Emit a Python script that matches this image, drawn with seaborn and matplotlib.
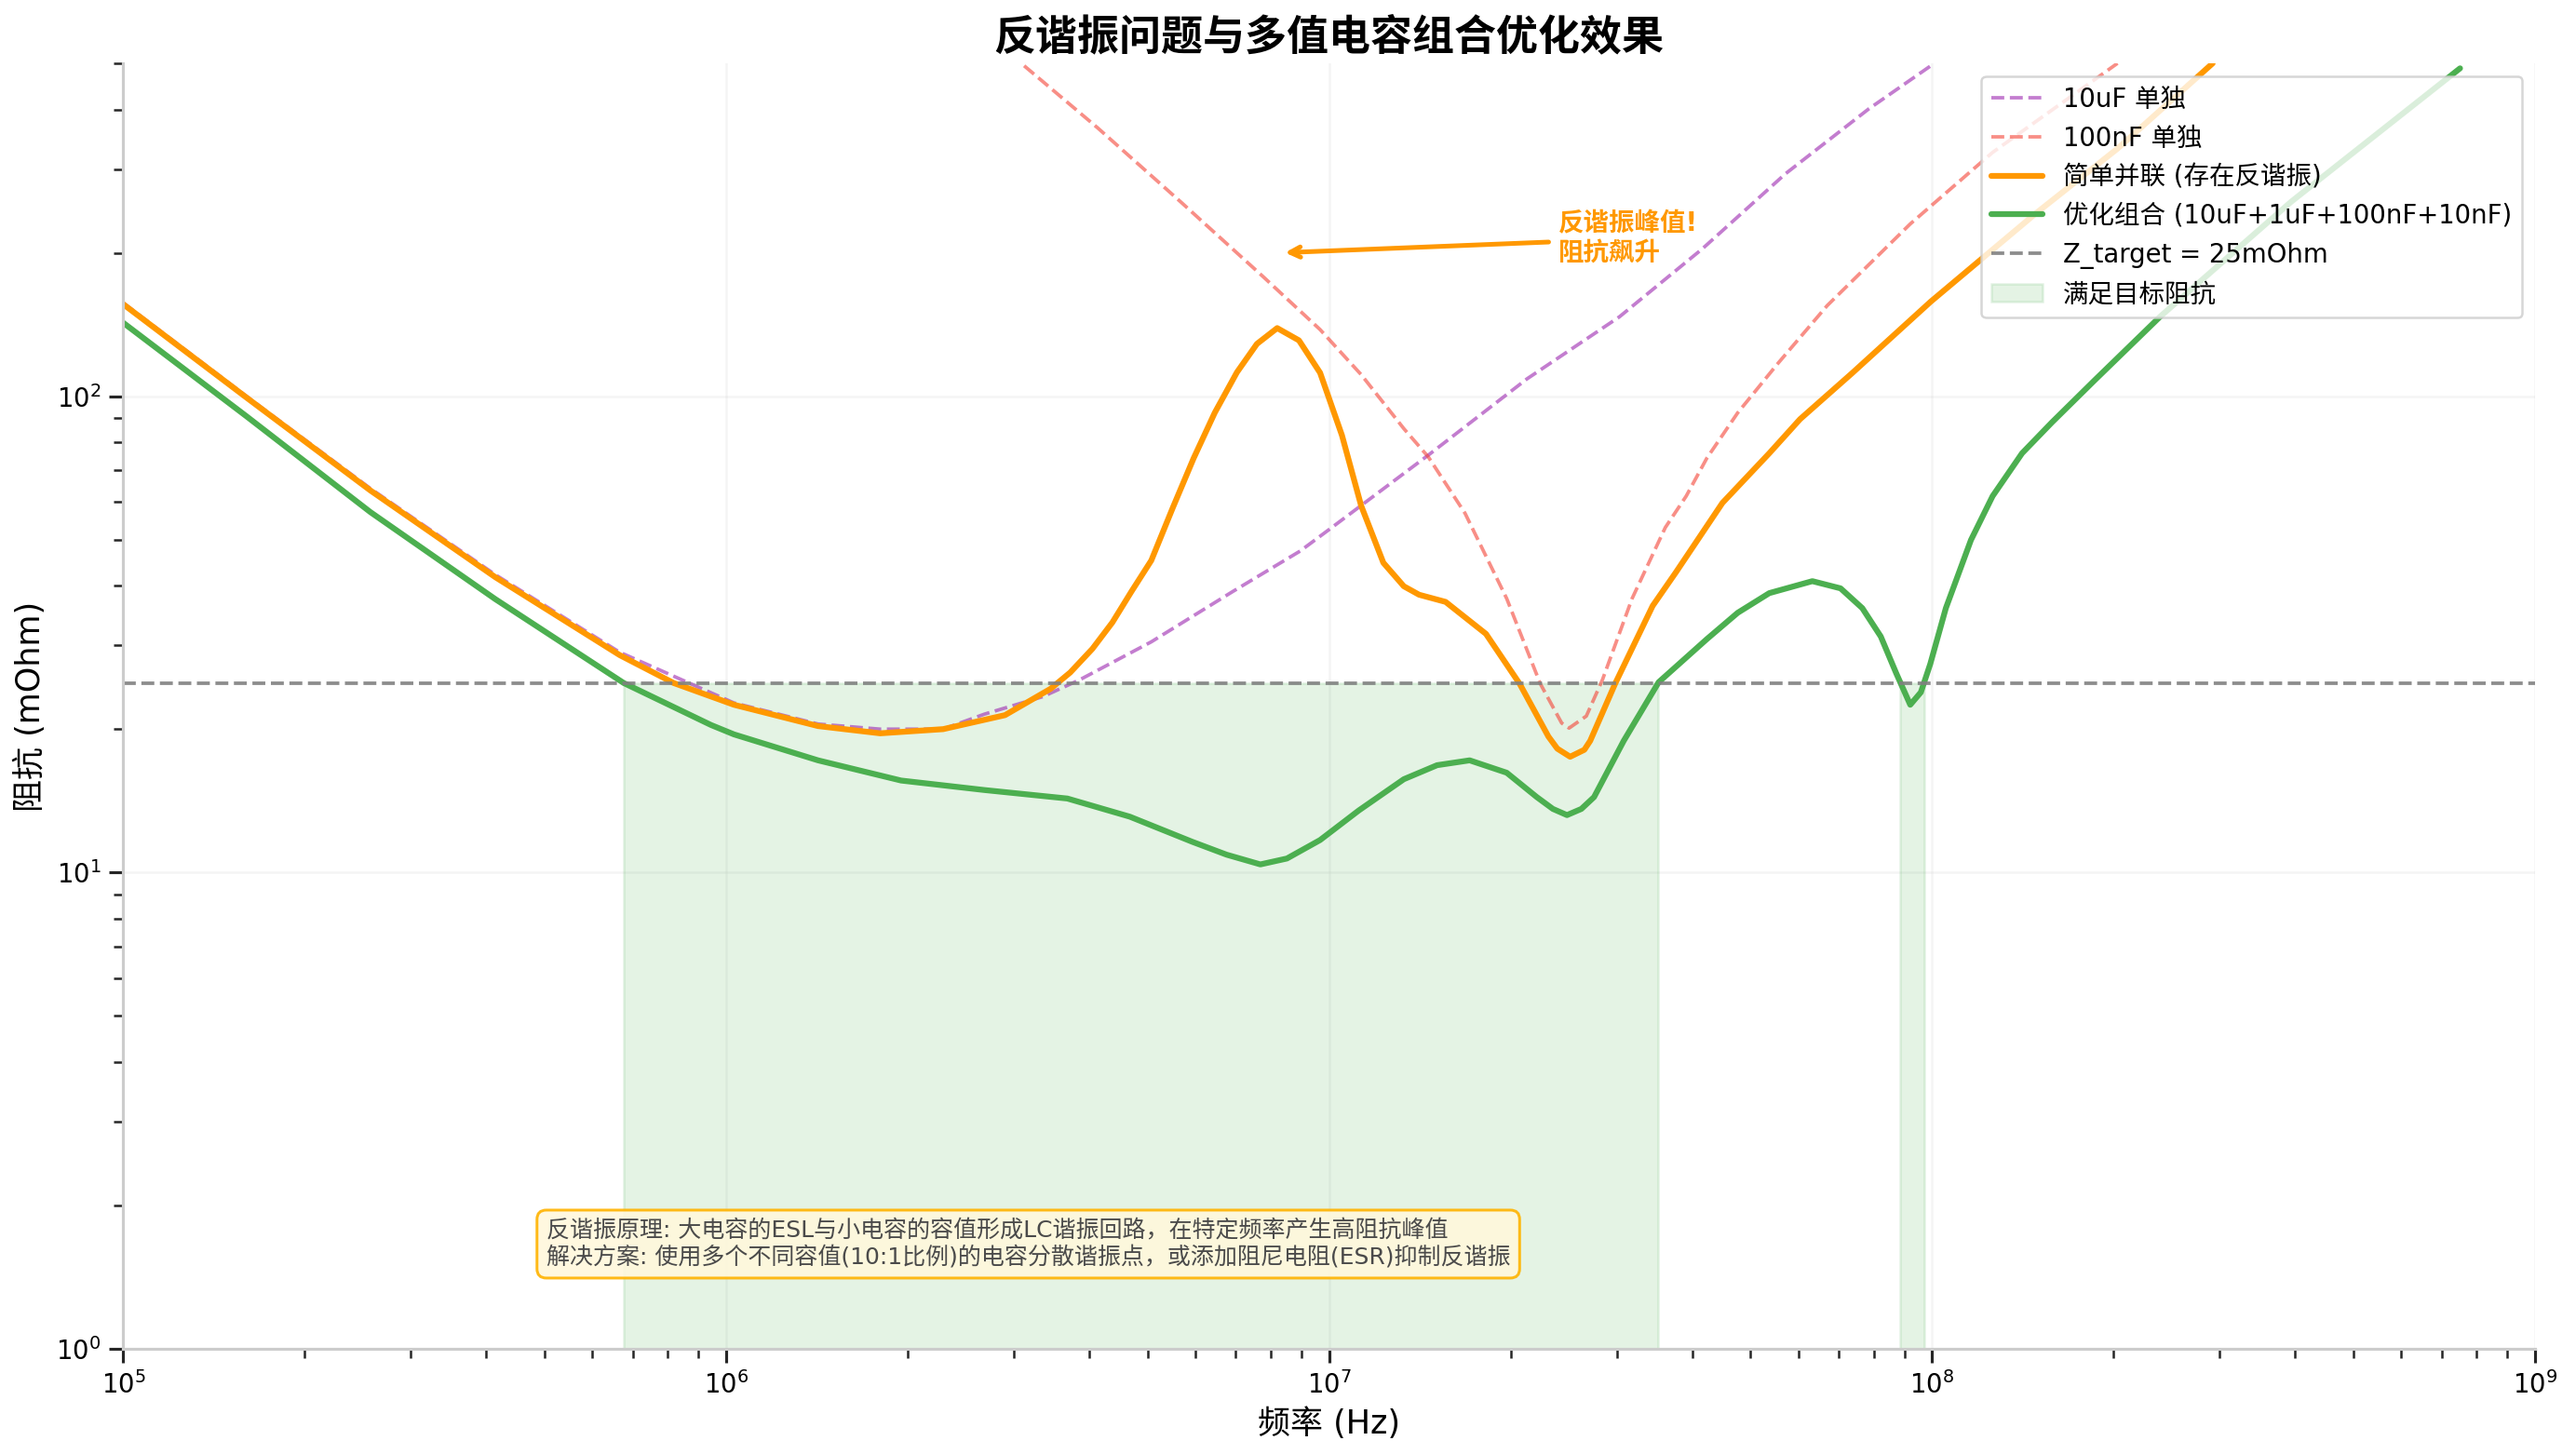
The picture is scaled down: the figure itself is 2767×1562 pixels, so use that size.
import numpy as np
import matplotlib
matplotlib.use("Agg")
import matplotlib.pyplot as plt
import seaborn as sns

# values (frequency in Hz, impedance in mOhm)
f_10u = [1.00e5, 1.60e5, 2.57e5, 4.14e5, 6.66e5, 1.03e6, 1.42e6, 1.80e6, 2.29e6, 2.68e6,
         3.35e6, 3.86e6, 5.07e6, 6.92e6, 8.95e6, 1.00e7, 1.46e7, 2.13e7, 3.03e7, 4.16e7,
         5.71e7, 7.85e7, 9.95e7]
z_10u = [157, 100, 64.0, 42.2, 29.0, 22.7, 20.5, 20.0, 20.0, 21.5,
         23.4, 25.4, 30.5, 38.9, 47.3, 52.5, 75.2, 108.8, 146.8, 204,
         293, 401, 494]

f_100n = [3.12e6, 4.13e6, 5.67e6, 7.78e6, 9.66e6, 1.13e7, 1.33e7, 1.46e7, 1.68e7, 1.97e7,
          2.24e7, 2.43e7, 2.50e7, 2.67e7, 2.84e7, 3.18e7, 3.61e7, 3.91e7, 4.23e7, 4.76e7,
          5.56e7, 6.70e7, 9.20e7, 1.26e8, 2.03e8]
z_100n = [494, 366, 256, 178, 138, 111, 85.5, 74.6, 56.8, 37.6,
          24.9, 20.6, 20.1, 21.3, 25.4, 37.6, 53.0, 61.7, 74.1, 92.3,
          117.5, 155, 230, 325, 500]

f_par = [1.00e5, 1.60e5, 2.57e5, 4.14e5, 6.66e5, 8.18e5, 1.03e6, 1.42e6, 1.80e6, 2.29e6,
         2.90e6, 3.45e6, 3.72e6, 4.05e6, 4.37e6, 4.70e6, 5.07e6, 5.50e6, 5.96e6, 6.46e6,
         7.03e6, 7.59e6, 8.20e6, 8.91e6, 9.66e6, 1.05e7, 1.13e7, 1.23e7, 1.33e7, 1.41e7,
         1.56e7, 1.82e7, 2.07e7, 2.31e7, 2.39e7, 2.51e7, 2.65e7, 2.71e7, 2.98e7, 3.44e7,
         3.76e7, 4.49e7, 5.37e7, 6.04e7, 7.38e7, 9.95e7, 1.48e8, 2.03e8, 2.92e8]
z_par = [156, 99.4, 63.4, 41.7, 28.6, 25.0, 22.5, 20.3, 19.6, 20.0,
         21.4, 24.3, 26.3, 29.5, 33.5, 38.9, 45.2, 58.2, 74.1, 92.3,
         112.2, 128.8, 139, 131, 112, 82.8, 58.9, 44.7, 39.9, 38.3,
         37.0, 31.7, 24.9, 19.3, 18.2, 17.5, 18.1, 18.9, 24.9, 36.3,
         42.7, 59.7, 75.9, 89.5, 112, 158, 241, 331, 500]

f_opt = [1.00e5, 1.60e5, 2.57e5, 4.14e5, 6.76e5, 9.44e5, 1.03e6, 1.42e6, 1.95e6, 2.68e6,
         3.68e6, 4.67e6, 5.93e6, 6.76e6, 7.69e6, 8.51e6, 9.66e6, 1.12e7, 1.33e7, 1.51e7,
         1.71e7, 1.97e7, 2.21e7, 2.35e7, 2.48e7, 2.62e7, 2.75e7, 3.08e7, 3.52e7, 4.23e7,
         4.76e7, 5.37e7, 6.33e7, 7.05e7, 7.66e7, 8.22e7, 8.72e7, 9.20e7, 9.58e7, 9.93e7,
         1.054e8, 1.16e8, 1.26e8, 1.41e8, 1.58e8, 1.86e8, 2.39e8, 3.94e8, 7.51e8]
z_opt = [142.6, 90.8, 57.1, 37.5, 25.0, 20.4, 19.5, 17.2, 15.6, 14.9,
         14.3, 13.1, 11.6, 10.9, 10.4, 10.7, 11.7, 13.5, 15.7, 16.8,
         17.2, 16.2, 14.4, 13.6, 13.2, 13.6, 14.4, 18.9, 25.1, 30.9,
         35.1, 38.6, 40.9, 39.5, 35.9, 31.3, 26.2, 22.5, 23.9, 27.4,
         35.9, 49.9, 61.7, 75.9, 88.1, 108, 147, 256, 488]

Z_TARGET = 25

labels = ['10uF 单独', '100nF 单独', '简单并联 (存在反谐振)',
          '优化组合 (10uF+1uF+100nF+10nF)', 'Z_target = 25mOhm', '满足目标阻抗']

note = ('反谐振原理: 大电容的ESL与小电容的容值形成LC谐振回路，在特定频率产生高阻抗峰值\n'
        '解决方案: 使用多个不同容值(10:1比例)的电容分散谐振点，或添加阻尼电阻(ESR)抑制反谐振')

sns.set_theme(style="whitegrid", context="notebook")
plt.rcParams['font.family'] = ['DejaVu Sans', 'Noto Sans CJK SC']
plt.rcParams['axes.unicode_minus'] = False
plt.rcParams['text.color'] = 'black'
plt.rcParams['axes.labelcolor'] = 'black'
plt.rcParams['xtick.color'] = 'black'
plt.rcParams['ytick.color'] = 'black'

fig = plt.figure(figsize=(2767 / 180, 1562 / 180), dpi=180)
ax = fig.add_axes([0.04785, 0.07234, 0.93625, 0.88413])
ax.set_xscale('log')
ax.set_yscale('log')

sns.lineplot(x=f_10u, y=z_10u, ax=ax, color='#9C27B0', alpha=0.6, linestyle='--',
             linewidth=1.5, label=labels[0])
sns.lineplot(x=f_100n, y=z_100n, ax=ax, color='#F44336', alpha=0.6, linestyle='--',
             linewidth=1.5, label=labels[1])
sns.lineplot(x=f_par, y=z_par, ax=ax, color='#FF9800', linewidth=2.5, label=labels[2])
sns.lineplot(x=f_opt, y=z_opt, ax=ax, color='#4CAF50', linewidth=2.5, label=labels[3])
ax.axhline(Z_TARGET, color='gray', linestyle='--', linewidth=1.5, alpha=0.9, label=labels[4])

# spans where the optimised curve stays under the target (crossings found in log space)
lf = np.log10(f_opt)
d = np.log10(z_opt) - np.log10(Z_TARGET)
edges = []
for i in range(len(d) - 1):
    if (d[i] >= 0) != (d[i + 1] >= 0):
        edges.append(lf[i] - d[i] * (lf[i + 1] - lf[i]) / (d[i + 1] - d[i]))
for k in range(0, len(edges) - 1, 2):
    ax.fill_between(10 ** np.array(edges[k:k + 2]), 0.5, Z_TARGET, color='#4CAF50',
                    alpha=0.15, label=labels[5] if k == 0 else None)

ax.annotate('反谐振峰值!\n阻抗飙升', xy=(8.3e6, 200), xytext=(2.4e7, 214),
            fontsize=11, fontweight='bold', color='#FF9800', ha='left', va='center',
            arrowprops=dict(arrowstyle='->', color='#FF9800', lw=2))

ax.text(0.1754, 0.0623, note, transform=ax.transAxes, fontsize=10, color='#4a4a4a',
        ha='left', va='bottom',
        bbox=dict(boxstyle='round,pad=0.4', facecolor='#FFF8DC', edgecolor='#FFB300',
                  linewidth=1.2, alpha=0.9))

ax.set_xlim(1e5, 1e9)
ax.set_ylim(1, 500)
ax.set_xlabel('频率 (Hz)', fontsize=14)
ax.set_ylabel('阻抗 (mOhm)', fontsize=14)
ax.set_title('反谐振问题与多值电容组合优化效果', fontsize=18, fontweight='bold')

ax.grid(True, which='major', alpha=0.2)
ax.tick_params(which='both', bottom=True, left=True, color='.15')
ax.spines['top'].set_visible(False)
ax.spines['right'].set_visible(False)

ax.legend(loc='upper right', fontsize=11, framealpha=0.8)

fig.savefig('out.png', dpi=180)
